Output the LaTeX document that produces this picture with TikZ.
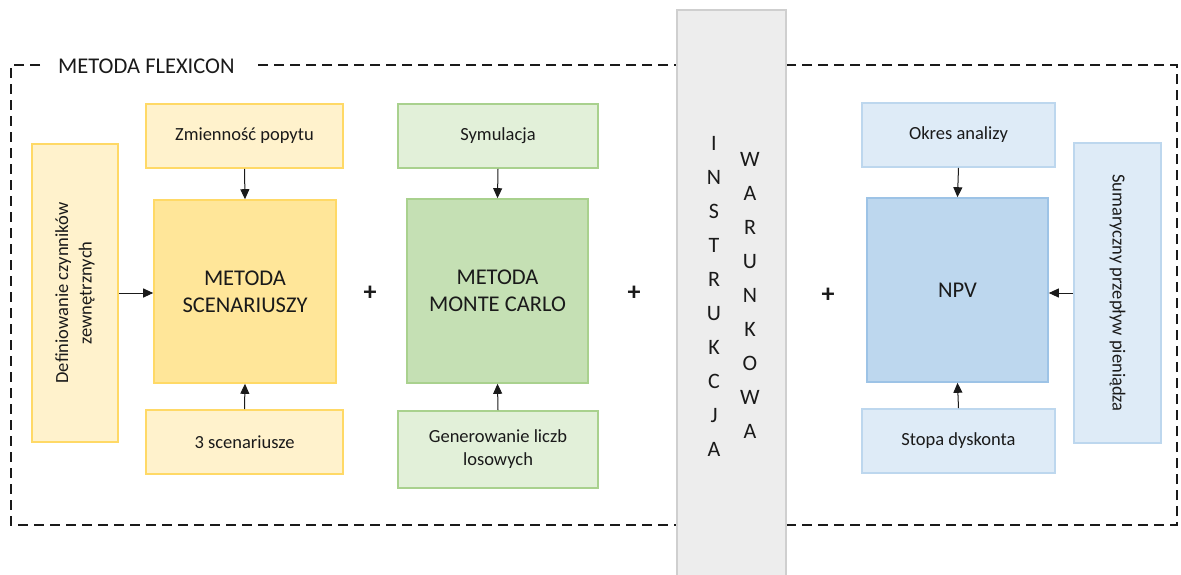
\documentclass[tikz,border=0pt]{standalone}
\usepackage{fontspec}
\setmainfont{Carlito}
\usetikzlibrary{arrows.meta}

\definecolor{ylight}{HTML}{FFF2CC}
\definecolor{ymain}{HTML}{FFE699}
\definecolor{yline}{HTML}{FFD966}
\definecolor{glight}{HTML}{E2F0D9}
\definecolor{gmain}{HTML}{C5E0B4}
\definecolor{gline}{HTML}{A9D18E}
\definecolor{blight}{HTML}{DEEBF7}
\definecolor{bmain}{HTML}{BDD7EE}
\definecolor{bline}{HTML}{BDD7EE}
\definecolor{bmainline}{HTML}{9DC3E6}
\definecolor{barfill}{HTML}{EDEDED}
\definecolor{barline}{HTML}{CFCFCF}
\definecolor{txt}{HTML}{1A1A1A}

\begin{document}
\begin{tikzpicture}[x=1pt,y=-1pt,
  box/.style={rectangle, draw, line width=1.6pt, inner sep=0pt, align=center,
    text=txt, font=\fontsize{18.5}{23}\selectfont},
  bigbox/.style={box, font=\fontsize{22.5}{27}\selectfont},
  side/.style={rotate=#1, align=center, text=txt, inner sep=0pt,
    font=\fontsize{18.5}{23.5}\selectfont},
  plus/.style={text=txt, inner sep=0pt, font=\fontsize{26}{26}\selectfont\bfseries},
  letter/.style={text=txt, inner sep=0pt, font=\fontsize{22}{22}\selectfont},
  arr/.style={draw=txt, line width=1pt, -{Triangle[length=10pt,width=9pt]}},
  frame/.style={dashed, dash pattern=on 10pt off 6pt, line width=1.8pt, draw=txt}
]
\useasboundingbox (0,0) rectangle (1181,574);

% outer dashed frame with its title
\node[text=txt, inner xsep=18pt, inner ysep=0pt, anchor=west,
      font=\fontsize{22.5}{22.5}\selectfont] (flex) at (40,66) {METODA FLEXICON};
\draw[frame] (flex.west |- 0,65) -- (11,65) -- (11,525) -- (1177,525)
  -- (1177,65) -- (flex.east |- 0,65);

% scenario method block
\node[box, fill=ylight, draw=yline, minimum width=197pt, minimum height=64pt]
  (zmien) at (244.5,136) {Zmienność popytu};
\node[bigbox, fill=ymain, draw=yline, minimum width=182pt, minimum height=183pt]
  (scen) at (245,291.5) {METODA\\SCENARIUSZY};
\node[box, fill=ylight, draw=yline, minimum width=197pt, minimum height=64pt]
  (trzy) at (244.5,442) {3 scenariusze};
\node[box, fill=ylight, draw=yline, minimum width=86pt, minimum height=298pt]
  (defin) at (75,293) {};
\node[side=90] (defintxt) at (defin) {Definiowanie czynników\\zewnętrznych};

\draw[arr] (zmien.south) -- (scen.north);
\draw[arr] (trzy.north) -- (scen.south);
\draw[arr] (defin.east) -- (defin.east -| scen.west);

\node[plus] (plus1) at (370,293) {+};

% Monte Carlo block
\node[box, fill=glight, draw=gline, minimum width=200pt, minimum height=64pt]
  (symul) at (498,136) {Symulacja};
\node[bigbox, fill=gmain, draw=gline, minimum width=181pt, minimum height=184pt]
  (monte) at (497.5,291) {METODA\\MONTE CARLO};
\node[box, fill=glight, draw=gline, minimum width=200pt, minimum height=77pt]
  (gener) at (498,449.5) {Generowanie liczb\\losowych};

\draw[arr] (symul.south) -- (monte.north);
\draw[arr] (gener.north) -- (monte.south);

\node[plus] (plus2) at (634,293) {+};

% conditional instruction bar
\node[rectangle, draw=barline, fill=barfill, line width=1.5pt, inner sep=0pt,
      minimum width=109pt, minimum height=570pt] (bar) at (731.5,295) {};
\foreach \l [count=\k from 0] in {I,N,S,T,R,U,K,C,J,A}
  \node[letter] (ins-\k) at (714,143+34.1*\k) {\l};
\foreach \l [count=\k from 0] in {W,A,R,U,N,K,O,W,A}
  \node[letter] (war-\k) at (750,159+34.1*\k) {\l};

\node[plus] (plus3) at (828,295) {+};

% NPV block
\node[box, fill=blight, draw=bline, minimum width=193pt, minimum height=64pt]
  (okres) at (958.5,135) {Okres analizy};
\node[bigbox, fill=bmain, draw=bmainline, minimum width=181pt, minimum height=184pt]
  (npv) at (957.5,290) {NPV};
\node[box, fill=blight, draw=bline, minimum width=193pt, minimum height=64pt]
  (stopa) at (958.5,441) {Stopa dyskonta};
\node[box, fill=blight, draw=bline, minimum width=87pt, minimum height=300pt]
  (sumar) at (1117.5,293) {};
\node[side=-90] (sumartxt) at (sumar) {Sumaryczny przepływ pieniądza};

\draw[arr] (okres.south) -- (npv.north);
\draw[arr] (stopa.north) -- (npv.south);
\draw[arr] (sumar.west) -- (sumar.west -| npv.east);

\end{tikzpicture}
\end{document}
